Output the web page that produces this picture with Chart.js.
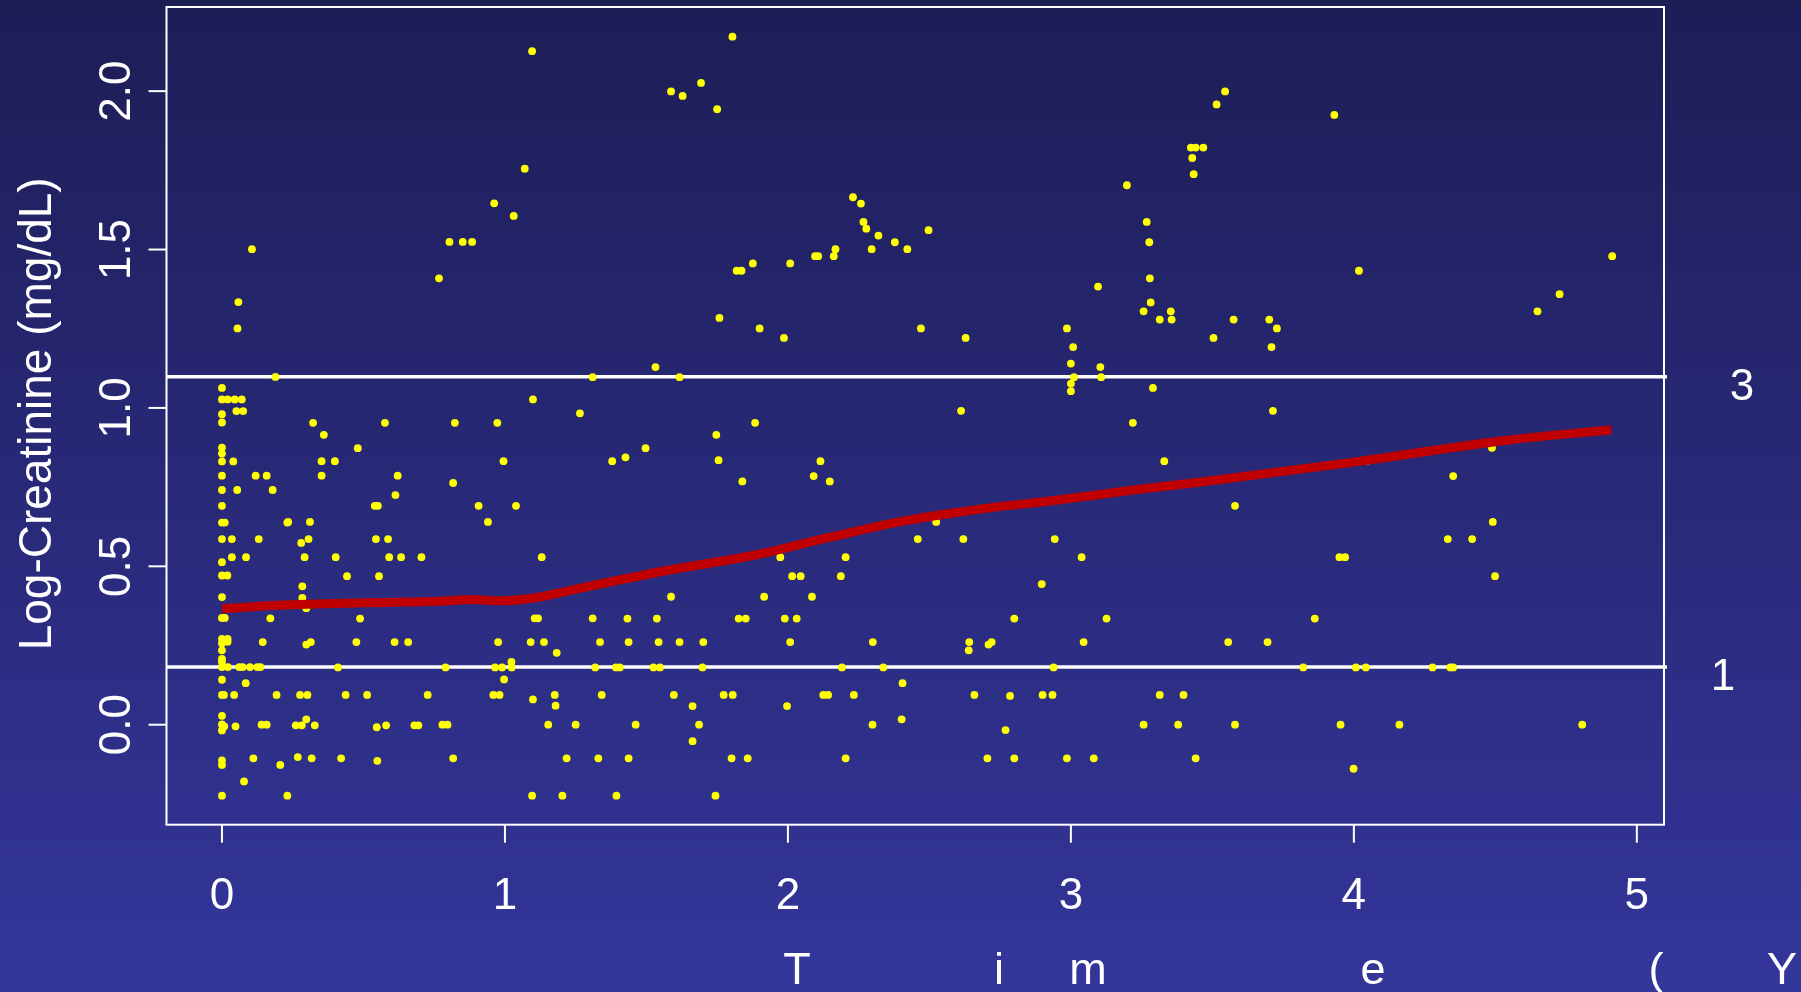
<!DOCTYPE html>
<html>
<head>
<meta charset="utf-8">
<script src="https://cdn.jsdelivr.net/npm/chart.js@4/dist/chart.umd.min.js"></script>
<style>
  html, body { margin: 0; padding: 0; overflow: hidden; background: #282a78; }
  #wrap { position: relative; width: 1801px; height: 992px; }
  canvas { display: block; }
</style>
</head>
<body>
<div id="wrap"><canvas id="chart" width="1801" height="992"></canvas></div>
<script>
// Follow-up time (years) of each creatinine measurement
const timeYears = [
  0,0,0.02,0.045,0.07,0.051,0.075,0,0,0,0,0,0.04,0,0,0.054,0,0,0.01,0,0.035,0,0.035,0.085,0,0.019,0,0,0.01,0,0.02,0,0.02,0,0,0,0,0.021,0,0,0.007,0,0,0.008,0,0,0,0,
  0.058,0.055,0.106,0.189,0.119,0.158,0.179,0.231,0.13,0.171,0.144,0.061,0.073,0.099,0.125,0.136,0.084,0.043,0.193,0.048,0.14,0.158,0.111,0.206,0.078,0.231,
  0.322,0.576,0.36,0.48,0.352,0.399,0.352,0.621,0.613,0.54,0.551,0.234,0.311,0.306,0.28,0.544,0.587,0.292,0.402,0.591,0.633,0.705,0.442,0.555,0.284,0.284,0.298,0.488,0.298,0.314,0.475,0.61,0.658,0.41,0.276,0.302,0.437,0.513,0.727,0.298,0.261,0.282,0.328,0.547,0.58,0.68,0.694,0.268,0.317,0.421,0.549,0.767,0.804,0.851,0.884,0.962,1.031,1.07,1.096,
  0.823,0.973,0.995,0.817,0.907,1.039,0.94,1.13,1.105,1.117,1.31,0.976,1.091,1.138,1.183,1.336,0.79,0.965,0.99,1.024,1.319,1.023,0.997,0.959,0.981,1.099,1.176,1.179,1.342,0.779,0.797,1.153,1.25,0.817,1.218,1.33,1.096,1.203,1.31,1.099,1.265,
  1.804,1.587,1.628,1.693,1.75,3.424,3.441,3.468,3.429,3.434,3.198,2.23,2.258,2.267,2.277,2.32,2.378,2.422,2.497,2.296,2.168,2.162,2.096,2.107,2.008,1.876,1.819,1.836,3.268,3.277,3.096,3.279,3.282,3.257,3.353,3.356,3.314,1.758,1.9,1.986,2.47,2.628,2.986,3.008,3.0,3.104,3.011,3.107,3.0,3.0,3.29,1.532,1.617,2.612,
  1.884,3.219,1.747,1.497,1.379,1.426,1.755,2.115,2.091,2.148,1.839,3.33,2.524,2.459,2.62,2.943,3.038,2.897,1.973,2.204,2.015,2.045,2.187,1.587,1.916,2.085,1.433,1.537,1.826,1.851,1.989,2.031,2.8,3.126,1.437,1.543,1.617,1.701,2.008,2.3,2.641,2.639,2.709,2.72,3.045,1.392,1.406,1.525,1.548,1.698,2.191,2.337,2.939,2.405,1.597,1.773,1.805,2.125,2.142,2.233,2.659,2.785,2.9,2.935,3.314,3.398,1.663,1.997,2.402,1.462,1.686,2.299,2.769,3.257,3.379,1.663,1.437,1.801,1.858,2.204,2.705,2.8,2.986,3.081,3.441,1.394,1.744,
  3.545,3.515,3.931,4.913,4.018,4.727,4.649,3.575,3.701,3.728,3.504,3.709,3.714,3.58,4.044,4.488,4.351,4.491,4.332,4.418,3.949,3.969,4.499,3.862,3.556,3.695,3.821,4.007,4.042,4.278,4.341,4.351,3.58,3.953,4.161,4.807,3.999
];

// Log-creatinine (mg/dL) at each of those times
const logCreatinine = [
  1.063,1.027,1.027,1.027,1.027,0.99,0.99,0.98,0.954,0.875,0.856,0.831,0.831,0.786,0.741,0.741,0.691,0.638,0.638,0.586,0.586,0.513,0.529,0.529,0.471,0.471,0.403,0.337,0.337,0.271,0.271,0.257,0.262,0.235,0.208,0.198,0.182,0.182,0.142,0.094,0.094,0.028,0.001,-0.005,-0.018,-0.113,-0.127,-0.224,
  1.334,1.251,1.501,1.098,0.786,0.786,0.741,0.638,0.586,0.336,0.261,0.182,0.182,0.182,0.182,0.182,0.131,0.094,0.094,-0.005,0,0,-0.106,-0.127,-0.179,-0.224,
  0.953,0.953,0.915,0.873,0.832,0.832,0.786,0.786,0.725,0.691,0.691,0.64,0.64,0.586,0.574,0.586,0.586,0.529,0.529,0.529,0.529,0.529,0.469,0.469,0.437,0.4,0.368,0.335,0.253,0.261,0.261,0.261,0.261,0.181,0.094,0.094,0.094,0.094,0.094,0.017,-0.002,-0.002,-0.002,-0.008,-0.002,-0.002,-0.002,-0.102,-0.106,-0.106,-0.114,1.409,1.524,1.524,1.524,1.646,1.606,1.755,2.126,
  0.953,0.953,0.832,0.763,0.691,0.691,0.64,0.529,0.336,0.336,0.336,0.261,0.261,0.261,0.227,0.261,0.181,0.181,0.181,0.181,0.181,0.198,0.143,0.094,0.094,0.08,0.094,0.06,0.094,0,0,0,0,-0.106,-0.106,-0.106,-0.224,-0.224,1.097,1.027,0.983,
  2.172,1.999,1.985,2.026,1.943,1.822,1.822,1.822,1.789,1.738,1.703,1.665,1.645,1.587,1.566,1.544,1.523,1.501,1.561,1.501,1.501,1.479,1.479,1.479,1.456,1.456,1.433,1.433,1.587,1.523,1.383,1.409,1.333,1.305,1.305,1.279,1.279,1.284,1.251,1.221,1.251,1.221,1.251,1.192,1.14,1.129,1.097,1.097,1.077,1.053,1.063,1.129,1.097,0.991,
  0.953,0.953,0.915,0.873,0.832,0.844,0.835,0.832,0.785,0.768,0.768,0.832,0.64,0.586,0.586,0.586,0.529,0.444,0.529,0.529,0.469,0.469,0.469,0.404,0.404,0.404,0.335,0.335,0.335,0.335,0.335,0.335,0.335,0.335,0.261,0.261,0.261,0.261,0.261,0.261,0.261,0.235,0.253,0.261,0.261,0.181,0.181,0.181,0.181,0.181,0.181,0.181,0.181,0.131,0.094,0.094,0.094,0.094,0.094,0.094,0.094,0.091,0.094,0.094,0.094,0.094,0.059,0.059,0.017,0,0,0,-0.017,0,0,-0.052,-0.106,-0.106,-0.106,-0.106,-0.106,-0.106,-0.106,-0.106,-0.106,-0.224,-0.224,
  1.999,1.958,1.925,1.479,1.433,1.359,1.305,1.279,1.279,1.251,1.221,1.192,0.991,0.691,0.832,0.874,0.785,0.64,0.586,0.586,0.529,0.529,0.469,0.335,0.261,0.261,0.181,0.181,0.181,0.181,0.181,0.181,0,0,0,0,-0.139
];

// Smoothed trend of log-creatinine over time
const smoothTime  = [0, 0.2, 0.5, 0.77, 0.89, 0.975, 1.1, 1.2, 1.34, 1.61, 1.88, 2.15, 2.42, 2.69, 2.96, 3.23, 3.46, 4.0, 4.54, 4.91];
const smoothLogCr = [0.366, 0.377, 0.385, 0.390, 0.395, 0.391, 0.400, 0.418, 0.445, 0.493, 0.535, 0.592, 0.645, 0.682, 0.710, 0.742, 0.766, 0.829, 0.898, 0.931];

// Reference levels: log of 3 and the lower cut-off, with their margin labels
const refLevels = [1.0986, 0.1823];
const refLabels = ['3', '1'];

// Axis ticks and ranges
const xTicks = [0, 1, 2, 3, 4, 5];
const xTickLabels = ['0', '1', '2', '3', '4', '5'];
const yTicks = [0, 0.5, 1.0, 1.5, 2.0];
const yTickLabels = ['0.0', '0.5', '1.0', '1.5', '2.0'];
const xRange = [-0.196, 5.096];
const yRange = [-0.3156, 2.2656];

const xTitle = 'Time (Years)';
const yTitle = 'Log-Creatinine (mg/dL)';

const FONT = '"Liberation Sans", Arial, Helvetica, sans-serif';

// Background, reference lines, frame, ticks and titles
const framePlugin = {
  id: 'frame',
  beforeDraw(chart) {
    const { ctx, width, height } = chart;
    const g = ctx.createLinearGradient(0, 0, 0, height);
    g.addColorStop(0, '#1d1d56');
    g.addColorStop(1, '#34369b');
    ctx.save();
    ctx.fillStyle = g;
    ctx.fillRect(0, 0, width, height);
    ctx.restore();
  },
  beforeDatasetsDraw(chart) {
    const { ctx, chartArea: a, scales: { y } } = chart;
    ctx.save();
    ctx.strokeStyle = '#ffffff';
    ctx.lineWidth = 3.5;
    refLevels.forEach(v => {
      const py = y.getPixelForValue(v);
      ctx.beginPath();
      ctx.moveTo(a.left, py);
      ctx.lineTo(a.right + 3, py);
      ctx.stroke();
    });
    ctx.restore();
  },
  afterDraw(chart) {
    const { ctx, chartArea: a, scales: { x, y } } = chart;
    ctx.save();
    ctx.strokeStyle = '#ffffff';
    ctx.fillStyle = '#ffffff';
    ctx.lineWidth = 2;

    // plot frame
    ctx.strokeRect(a.left, a.top, a.right - a.left, a.bottom - a.top);

    // x axis ticks and labels
    ctx.font = '44px ' + FONT;
    ctx.textAlign = 'center';
    ctx.textBaseline = 'alphabetic';
    xTicks.forEach((v, i) => {
      const px = x.getPixelForValue(v);
      ctx.beginPath();
      ctx.moveTo(px, a.bottom);
      ctx.lineTo(px, a.bottom + 18);
      ctx.stroke();
      ctx.fillText(xTickLabels[i], px, 909);
    });

    // y axis ticks and rotated labels
    yTicks.forEach((v, i) => {
      const py = y.getPixelForValue(v);
      ctx.beginPath();
      ctx.moveTo(a.left - 18, py);
      ctx.lineTo(a.left, py);
      ctx.stroke();
      ctx.save();
      ctx.translate(129.5, py);
      ctx.rotate(-Math.PI / 2);
      ctx.fillText(yTickLabels[i], 0, 0);
      ctx.restore();
    });

    // margin labels of the reference levels
    const refX = [1742, 1723];
    refLevels.forEach((v, i) => {
      const py = y.getPixelForValue(v);
      ctx.fillText(refLabels[i], refX[i], py + 23.5);
    });

    // y title
    ctx.font = '46px ' + FONT;
    ctx.save();
    ctx.translate(50.5, (a.top + a.bottom) / 2 - 2);
    ctx.rotate(-Math.PI / 2);
    ctx.fillText(yTitle, 0, 0);
    ctx.restore();

    // x title, spread across the bottom margin
    ctx.font = '45px ' + FONT;
    const titleX = [797, 999, 1088, 1373, 1515, 1656, 1782, 1900, 1990, 2070, 2140, 2200];
    for (let i = 0; i < xTitle.length; i++) {
      const ch = xTitle[i];
      if (ch === ' ') continue;
      ctx.fillText(ch, titleX[i], 984);
    }
    ctx.restore();
  }
};

const points = timeYears.map((t, i) => ({ x: t, y: logCreatinine[i] }));
const trend = smoothTime.map((t, i) => ({ x: t, y: smoothLogCr[i] }));

new Chart(document.getElementById('chart'), {
  type: 'scatter',
  data: {
    datasets: [
      {
        type: 'line',
        label: 'Smoothed trend',
        data: trend,
        borderColor: '#c00000',
        borderWidth: 9,
        borderCapStyle: 'butt',
        pointRadius: 0,
        fill: false,
        cubicInterpolationMode: 'monotone',
        order: 0
      },
      {
        label: 'Measurements',
        data: points,
        backgroundColor: '#ffff00',
        borderWidth: 0,
        pointRadius: 3.9,
        pointHoverRadius: 3.9,
        order: 1
      }
    ]
  },
  options: {
    responsive: false,
    animation: false,
    devicePixelRatio: 1,
    events: [],
    layout: { padding: { left: 166.5, right: 137, top: 7, bottom: 167.3 } },
    scales: {
      x: { type: 'linear', min: xRange[0], max: xRange[1], display: false },
      y: { type: 'linear', min: yRange[0], max: yRange[1], display: false }
    },
    plugins: {
      legend: { display: false },
      tooltip: { enabled: false }
    }
  },
  plugins: [framePlugin]
});
</script>
</body>
</html>
